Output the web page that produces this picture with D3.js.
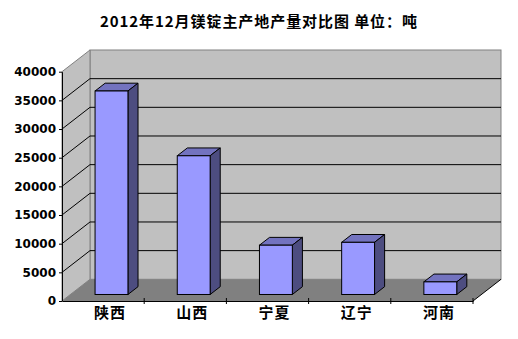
<!DOCTYPE html>
<html>
<head>
<meta charset="utf-8">
<script src="https://cdn.jsdelivr.net/npm/d3@7"></script>
<style>
  body { margin: 0; background: #fff; }
  svg { display: block; }
</style>
</head>
<body>
<div class="chart-js"></div>
<script>
'use strict';

// data (tonnes)
var categories = ["陕西", "山西", "宁夏", "辽宁", "河南"];
var output = [35500, 24200, 8600, 9100, 2200];
var yTicks = [0, 5000, 10000, 15000, 20000, 25000, 30000, 35000, 40000];
var title = "2012年12月镁锭主产地产量对比图 单位：吨";

function run() {
  var owidth = 518, oheight = 339;

  // front plane of the 3d box
  var left = 62, right = 473, bottom = 301, top = 71.7;
  // full depth offset of the box
  var dx = 28, dy = -21.7;
  // where the bars sit in depth
  var barFront = 0.3, barDepth = 0.36;

  var xData = d3.scaleBand()
    .domain(categories)
    .range([left, right])
    .paddingInner(0.6)
    .paddingOuter(0.3);

  var yData = d3.scaleLinear()
    .domain([0, 40000])
    .range([bottom, top]);

  var svg = d3.select(".chart-js").append("svg")
    .attr("width", owidth)
    .attr("height", oheight);

  svg.append("text")
    .attr("x", 258.5)
    .attr("y", 27)
    .attr("text-anchor", "middle")
    .attr("textLength", 317)
    .attr("lengthAdjust", "spacing")
    .style("font-family", "'Noto Sans CJK SC', sans-serif")
    .style("font-weight", "bold")
    .style("font-size", "15px")
    .text(title);

  var y0 = yData(0), yTop = yData(40000);

  // back wall
  svg.append("rect")
    .attr("x", left + dx)
    .attr("y", yTop + dy)
    .attr("width", (right + dx) - (left + dx) + 0)
    .attr("height", y0 - yTop)
    .attr("fill", "#c0c0c0")
    .attr("stroke", "#808080");

  // side wall
  svg.append("path")
    .attr("d", d3.line()([[left, yTop], [left + dx, yTop + dy], [left + dx, y0 + dy], [left, y0]]) + "Z")
    .attr("fill", "#c0c0c0")
    .attr("stroke", "#808080");

  // floor
  svg.append("path")
    .attr("d", d3.line()([[left, y0], [right, y0], [right + dx, y0 + dy], [left + dx, y0 + dy]]) + "Z")
    .attr("fill", "#808080");
  svg.append("line")
    .attr("x1", right).attr("y1", y0)
    .attr("x2", right + dx).attr("y2", y0 + dy)
    .attr("stroke", "#000");

  // gridlines on back wall + diagonals on side wall
  var inner = yTicks.filter(function(d) { return d > 0 && d < 40000; });
  svg.append("g").selectAll("line").data(inner).join("line")
    .attr("x1", left + dx).attr("x2", right + dx)
    .attr("y1", function(d) { return yData(d) + dy; })
    .attr("y2", function(d) { return yData(d) + dy; })
    .attr("stroke", "#000");
  svg.append("g").selectAll("line").data(inner).join("line")
    .attr("x1", left).attr("x2", left + dx)
    .attr("y1", function(d) { return yData(d); })
    .attr("y2", function(d) { return yData(d) + dy; })
    .attr("stroke", "#000");

  // y axis
  var yAxis = d3.axisLeft(yData)
    .tickValues(yTicks)
    .tickSize(3)
    .tickSizeOuter(0)
    .tickPadding(3)
    .tickFormat(d3.format("d"));
  var gy = svg.append("g")
    .attr("transform", "translate(" + left + ",0)")
    .call(yAxis);
  gy.select(".domain").attr("stroke", "#000");
  gy.selectAll(".tick line").attr("stroke", "#000");
  gy.selectAll(".tick text")
    .attr("fill", "#000")
    .style("font-family", "'DejaVu Sans', sans-serif")
    .style("font-weight", "bold")
    .style("font-size", "12px");

  // x axis
  var xAxis = d3.axisBottom(xData).tickSize(0).tickSizeOuter(0).tickPadding(6);
  var gx = svg.append("g")
    .attr("transform", "translate(0," + y0 + ")")
    .call(xAxis);
  gx.select(".domain").attr("stroke", "#000");
  gx.selectAll(".tick text")
    .attr("fill", "#000")
    .attr("dx", 7)
    .style("font-family", "'Noto Sans CJK SC', sans-serif")
    .style("font-weight", "bold")
    .style("font-size", "15px")
    .style("letter-spacing", "1px");
  // category boundary ticks
  gx.append("g").selectAll("line").data(categories).join("line")
    .attr("x1", function(d) { return xData(d) - xData.step() * xData.paddingOuter() + xData.step(); })
    .attr("x2", function(d) { return xData(d) - xData.step() * xData.paddingOuter() + xData.step(); })
    .attr("y1", -3).attr("y2", 3)
    .attr("stroke", "#000");

  // bars
  var fx = barFront * dx, fy = barFront * dy;
  var bdx = barDepth * dx, bdy = barDepth * dy;
  var w = xData.bandwidth();
  var bars = svg.append("g").selectAll("g")
    .data(categories.map(function(c, i) { return {cat: c, value: output[i]}; }))
    .join("g");

  bars.append("path")
    .attr("d", function(d) {
      var bx = xData(d.cat) + fx, ty = yData(d.value) + fy;
      return d3.line()([[bx, ty], [bx + bdx, ty + bdy], [bx + w + bdx, ty + bdy], [bx + w, ty]]) + "Z";
    })
    .attr("fill", "#7373bf")
    .attr("stroke", "#000")
    .attr("stroke-linejoin", "round");
  bars.append("path")
    .attr("d", function(d) {
      var bx = xData(d.cat) + fx + w, ty = yData(d.value) + fy, by = y0 + fy;
      return d3.line()([[bx, ty], [bx + bdx, ty + bdy], [bx + bdx, by + bdy], [bx, by]]) + "Z";
    })
    .attr("fill", "#4d4d80")
    .attr("stroke", "#000")
    .attr("stroke-linejoin", "round");
  bars.append("rect")
    .attr("x", function(d) { return xData(d.cat) + fx; })
    .attr("y", function(d) { return yData(d.value) + fy; })
    .attr("width", w)
    .attr("height", function(d) { return y0 - yData(d.value); })
    .attr("fill", "#9999ff")
    .attr("stroke", "#000");
}

document.addEventListener('DOMContentLoaded', run);
</script>
</body>
</html>
